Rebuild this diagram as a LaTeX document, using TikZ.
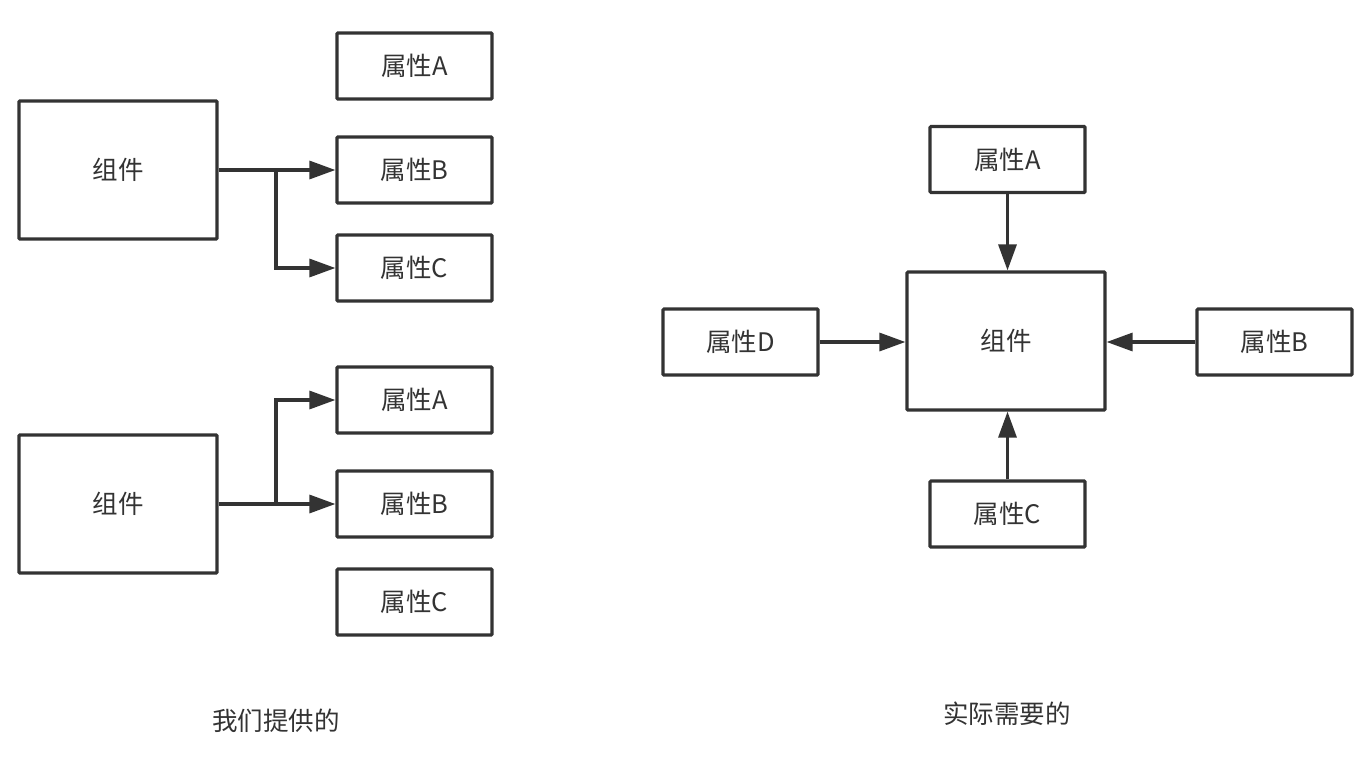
\documentclass[tikz,border=0pt]{standalone}
\usepackage{fontspec}
\setmainfont{Noto Sans CJK SC}
\usetikzlibrary{arrows.meta}
\definecolor{ink}{HTML}{333333}
\begin{document}
\begin{tikzpicture}[x=1pt,y=-1pt,
  box/.style={draw=ink,line width=3.2pt,rounded corners=1pt,inner sep=0pt,text=ink,font=\fontsize{25.5}{30}\selectfont},
  prop/.style={box,minimum width=155pt,minimum height=66pt},
  comp/.style={box,minimum width=198pt,minimum height=138pt},
  conn/.style={draw=ink,line width=3.2pt,-{Triangle[length=26pt,width=18pt]}},
  captext/.style={text=ink,font=\fontsize{25.5}{30}\selectfont}]
\useasboundingbox[fill=white] (0,0) rectangle (1372,760);
% left top group
\node[comp] (c1) at (118,170) {组件};
\node[prop] (a1) at (414.5,66) {属性A};
\node[prop] (b1) at (414.5,170) {属性B};
\node[prop] (cc1) at (414.5,268) {属性C};
\draw[conn] (c1.east) -- (b1.west);
\coordinate (j1) at (276,170);
\draw[conn] (j1) |- (cc1.west);
% left bottom group
\node[comp] (c2) at (118,504) {组件};
\node[prop] (a2) at (414.5,400) {属性A};
\node[prop] (b2) at (414.5,504) {属性B};
\node[prop] (cc2) at (414.5,602) {属性C};
\draw[conn] (c2.east) -- (b2.west);
\coordinate (j2) at (276,504);
\draw[conn] (j2) |- (a2.west);
% right group
\node[comp] (c3) at (1006,341) {组件};
\node[prop] (a3) at (1007.5,159.5) {属性A};
\node[prop] (d3) at (740.5,342) {属性D};
\node[prop] (b3) at (1274.5,342) {属性B};
\node[prop] (cc3) at (1007.5,514) {属性C};
\draw[conn] (a3.south) -- (a3.south |- c3.north);
\draw[conn] (cc3.north) -- (cc3.north |- c3.south);
\draw[conn] (d3.east) -- (d3.east -| c3.west);
\draw[conn] (b3.west) -- (b3.west -| c3.east);
% captions
\node[captext] (t1) at (276,721) {我们提供的};
\node[captext] (t2) at (1007,714) {实际需要的};
\end{tikzpicture}
\end{document}
